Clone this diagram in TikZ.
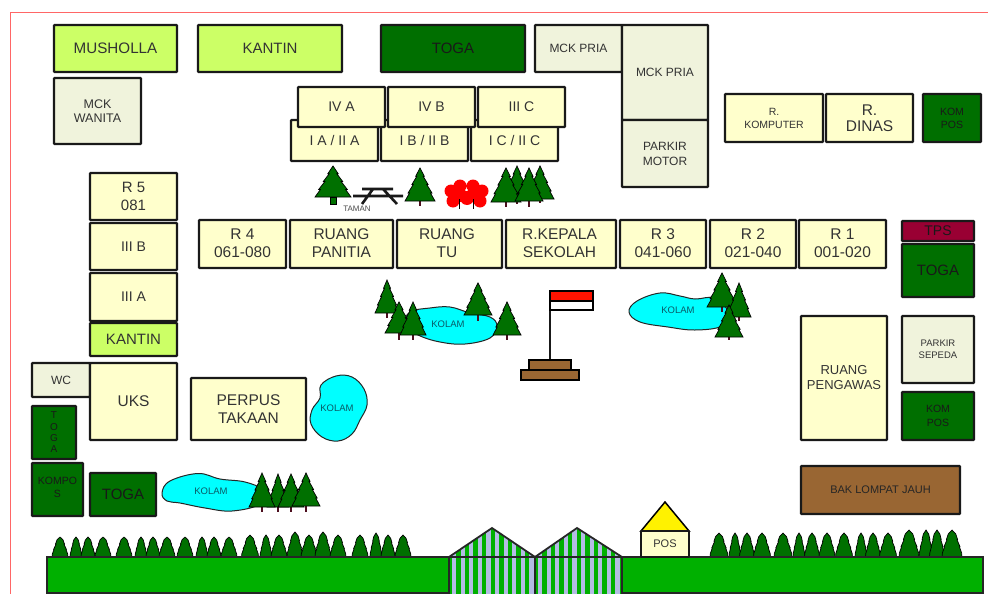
\documentclass[tikz,border=0pt]{standalone}
\usepackage{fontspec}
\setmainfont{Liberation Sans}
\definecolor{lime}{HTML}{CCFF66}
\definecolor{cream}{HTML}{FFFFCC}
\definecolor{pale}{HTML}{F0F3DC}
\definecolor{dgreen}{HTML}{006F00}
\definecolor{tps}{HTML}{990033}
\definecolor{brownb}{HTML}{996633}
\definecolor{groundg}{HTML}{00B000}
\definecolor{treeg}{HTML}{007000}
\definecolor{trunkc}{HTML}{4D0F1E}
\definecolor{lav}{HTML}{B4BCE4}
\definecolor{frame}{HTML}{FF6666}
\definecolor{pondc}{HTML}{00FFFF}
\definecolor{pondt}{HTML}{0A5A66}
\newcommand{\fsz}[2]{\fontsize{#1pt}{#2pt}\selectfont}
\tikzset{
  room/.style={draw=black!90,line width=2.1pt,inner sep=0pt,outer sep=0pt,align=center,text=black!80,rounded corners=0.6pt},
  limeb/.style={room,fill=lime},
  creamb/.style={room,fill=cream},
  paleb/.style={room,fill=pale},
  greenb/.style={room,fill=dgreen,text=black!90},
  tpsb/.style={room,fill=tps,text=black!90},
  brownbox/.style={room,fill=brownb,text=black!85},
  pond/.style={draw=black!85,line width=1pt,fill=pondc},
  pondtext/.style={text=pondt,inner sep=0pt,font=\fsz{9.5}{11}},
  treeleaf/.style={draw=black,line width=0.7pt,fill=treeg},
  trunkline/.style={draw=trunkc,line width=2.4pt},
  darkline/.style={draw=black!90,line width=2pt},
  tablebar/.style={draw=black!90,line width=2.6pt},
}
% \bx{style}{name}{x1}{y1}{x2}{y2}{text}
\newcommand{\bx}[7]{%
  \pgfmathsetmacro{\bw}{#5-#3}\pgfmathsetmacro{\bh}{#6-#4}%
  \pgfmathsetmacro{\bcx}{(#3+#5)/2}\pgfmathsetmacro{\bcy}{(#4+#6)/2}%
  \node[#1,minimum width=\bw pt,minimum height=\bh pt] (#2) at (\bcx,\bcy) {#7};}
% \pine{cx}{top}{foliage bottom}{trunk bottom}{half width}
\newcommand{\pine}[5]{%
  \pgfmathsetmacro{\ph}{#3-#2}%
  \draw[trunkline] (#1,#3-2) -- (#1,#4);
  \draw[treeleaf,shift={(#1,#2)},xscale=#5,yscale=\ph]
    (0,0) -- (.29,.25) -- (.21,.25) -- (.54,.5) -- (.45,.5) -- (.8,.76) -- (.7,.76) -- (1,1)
    -- (-1,1) -- (-.7,.76) -- (-.8,.76) -- (-.45,.5) -- (-.54,.5) -- (-.21,.25) -- (-.29,.25) -- cycle;}
% \gtree{cx}{top}{half width}
\newcommand{\gtree}[3]{%
  \pgfmathsetmacro{\ph}{557-#2}%
  \draw[treeleaf,shift={(#1,#2)},xscale=#3,yscale=\ph]
    (0,0) -- (.38,.15) -- (.56,.35) -- (.5,.36) -- (.8,.62) -- (.75,.63) -- (.96,.85) -- (1,1)
    -- (-1,1) -- (-.96,.85) -- (-.75,.63) -- (-.8,.62) -- (-.5,.36) -- (-.56,.35) -- (-.38,.15) -- cycle;}
\begin{document}
\begin{tikzpicture}[x=1pt,y=-1pt]
\useasboundingbox (0,0) rectangle (988,594);
\fill[white] (0,0) rectangle (988,594);
% page frame
\draw[frame,line width=1.2pt] (10.5,594) -- (10.5,12.5) -- (988,12.5);

% top row
\bx{limeb,font=\fsz{15.2}{17}}{musholla}{54}{25}{177}{72}{MUSHOLLA}
\bx{limeb,font=\fsz{15}{17}}{kantinA}{198}{25}{342}{72}{KANTIN}
\bx{greenb,font=\fsz{15}{17}}{togaA}{381}{25}{525}{72}{TOGA}
\bx{paleb,font=\fsz{12}{14}}{mckpriaA}{535}{25}{622}{72}{MCK PRIA}
\bx{paleb,font=\fsz{12}{17}}{mckpriaB}{622}{25}{708}{120}{MCK PRIA}
\bx{paleb,font=\fsz{12}{15}}{parkirmotor}{622}{120}{708}{187}{PARKIR\\MOTOR}
\bx{paleb,font=\fsz{12.5}{14}}{mckwanita}{54}{78}{141}{144}{MCK\\WANITA}

% classes
\bx{creamb,font=\fsz{14}{16}}{ia}{291}{120}{378}{161}{I A / II A}
\bx{creamb,font=\fsz{14}{16}}{ib}{381}{120}{468}{161}{I B / II B}
\bx{creamb,font=\fsz{14}{16}}{ic}{471}{120}{558}{161}{I C / II C}
\bx{creamb,font=\fsz{14}{16}}{iva}{298}{87}{385}{127}{IV A}
\bx{creamb,font=\fsz{14}{16}}{ivb}{388}{87}{475}{127}{IV B}
\bx{creamb,font=\fsz{14}{16}}{iiic}{478}{87}{565}{127}{III C}

% upper right
\bx{creamb,font=\fsz{10.5}{13}}{rkomputer}{725}{94}{823}{142}{R.\\KOMPUTER}
\bx{creamb,font=\fsz{15.5}{16}}{rdinas}{826}{94}{913}{142}{R.\\DINAS}
\bx{greenb,font=\fsz{10.5}{13}}{komposA}{923}{94}{981}{142}{KOM\\POS}

% left column
\bx{creamb,font=\fsz{15}{18}}{r5}{90}{173}{177}{220}{R 5\\081}
\bx{creamb,font=\fsz{14}{16}}{iiib}{90}{223}{177}{270}{III B}
\bx{creamb,font=\fsz{14}{16}}{iiia}{90}{273}{177}{321}{III A}
\bx{limeb,font=\fsz{15}{16}}{kantinB}{90}{323}{177}{356}{KANTIN}

% main row
\bx{creamb,font=\fsz{15.5}{18}}{r4}{199}{220}{286}{268}{\raisebox{1pt}{R 4}\\\raisebox{1pt}{061-080}}
\bx{creamb,font=\fsz{15.5}{18}}{panitia}{290}{220}{393}{268}{\raisebox{1pt}{RUANG}\\\raisebox{1pt}{PANITIA}}
\bx{creamb,font=\fsz{15.5}{18}}{tu}{397}{220}{502}{268}{\hspace*{-5pt}\raisebox{1pt}{RUANG}\\\hspace*{-5pt}\raisebox{1pt}{TU}}
\bx{creamb,font=\fsz{15.5}{18}}{kepsek}{506}{220}{616}{268}{\hspace*{-3pt}\raisebox{1pt}{R.KEPALA}\\\hspace*{-3pt}\raisebox{1pt}{SEKOLAH}}
\bx{creamb,font=\fsz{15.5}{18}}{r3}{620}{220}{706}{268}{\raisebox{1pt}{R 3}\\\raisebox{1pt}{041-060}}
\bx{creamb,font=\fsz{15.5}{18}}{r2}{710}{220}{796}{268}{\raisebox{1pt}{R 2}\\\raisebox{1pt}{021-040}}
\bx{creamb,font=\fsz{15.5}{18}}{r1}{799}{220}{886}{268}{\raisebox{1pt}{R 1}\\\raisebox{1pt}{001-020}}

% right column
\bx{tpsb,font=\fsz{14}{16}}{tpsnode}{902}{221}{974}{241}{TPS}
\bx{greenb,font=\fsz{15}{17}}{togaB}{902}{244}{974}{297}{TOGA}
\bx{paleb,font=\fsz{9.5}{12}}{sepeda}{902}{316}{974}{383}{PARKIR\\SEPEDA}
\bx{greenb,font=\fsz{10.5}{14}}{komposB}{902}{392}{974}{440}{KOM\\POS}
\bx{creamb,font=\fsz{13}{15}}{pengawas}{801}{316}{887}{440}{RUANG\\PENGAWAS}
\bx{brownbox,font=\fsz{11}{13}}{bak}{801}{466}{960}{514}{BAK LOMPAT JAUH}

% lower left
\bx{paleb,font=\fsz{12}{14}}{wc}{32}{363}{90}{397}{WC}
\bx{creamb,font=\fsz{15.5}{18}}{uks}{90}{363}{177}{440}{UKS}
\bx{creamb,font=\fsz{15.5}{18}}{perpus}{191}{378}{306}{440}{PERPUS\\TAKAAN}
\bx{greenb,font=\fsz{10}{11.3}}{togaC}{32}{406}{76}{459}{T\\O\\G\\A}
\bx{greenb,font=\fsz{10.5}{13}}{komposC}{32}{463}{83}{516}{\raisebox{5pt}{KOMPO}\\\raisebox{5pt}{S}}
\bx{greenb,font=\fsz{15}{17}}{togaD}{90}{473}{156}{516}{TOGA}

% taman
\pine{333}{166}{197}{197}{18}
\draw[draw=black,line width=.7pt,fill=treeg] (330,197) rectangle (336,204);
\draw[tablebar] (362,189) -- (393,189) (353,196) -- (403,196)
  (373,189) -- (362,204) (383,189) -- (397,204);
\node[inner sep=0pt,text=black!70,font=\fsz{8}{9}] (taman) at (357,208.5) {TAMAN};
\pine{420}{168}{201}{206}{15}
\fill[red] (451,191) circle (6.5) (460,186) circle (6.5) (473,186) circle (6.5) (482,191) circle (6.5)
  (453,201) circle (6.5) (467,198) circle (7) (480,201) circle (6.5) (460,195) circle (7) (473,195) circle (7);
\draw[line width=1pt] (459,199) -- (459,209) (473,199) -- (473,209);
\pine{517}{166}{198}{204}{13}
\pine{540}{166}{199}{203}{14}
\pine{506}{168}{202}{207}{15}
\pine{529}{168}{201}{207}{14}

% ponds
\draw[pond] plot[smooth cycle,tension=.65] coordinates {(410,312) (430,308) (450,307) (470,313) (490,317) (497,326) (490,338) (465,344) (440,342) (418,335) (405,325)};
\node[pondtext] (kolamA) at (448,324) {KOLAM};
\pine{387}{280}{313}{318}{12}
\pine{399}{302}{333}{340}{14}
\pine{413}{302}{335}{340}{13}
\pine{478}{283}{315}{321}{14}
\pine{507}{302}{335}{340}{14}

\draw[pond] plot[smooth cycle,tension=.65] coordinates {(629,312) (637,301) (660,293) (680,296) (695,299) (715,298) (728,312) (722,326) (695,330) (668,327) (640,322)};
\node[pondtext] (kolamB) at (678,310) {KOLAM};
\pine{722}{273}{307}{312}{15}
\pine{739}{283}{317}{321}{12}
\pine{729}{305}{337}{340}{14}

\draw[pond] plot[smooth cycle,tension=.65] coordinates {(336,376) (352,377) (364,389) (367,405) (360,420) (352,434) (338,441) (322,437) (311,424) (312,410) (320,398) (321,385)};
\node[pondtext] (kolamC) at (337,408) {KOLAM};

\draw[pond] plot[smooth cycle,tension=.65] coordinates {(162,493) (170,481) (198,473.5) (220,479) (245,482) (262,490) (260,504) (232,511) (205,508) (180,503) (167,501)};
\node[pondtext] (kolamD) at (211,491) {KOLAM};
\pine{278}{474}{507}{512}{11}
\pine{262}{473}{507}{512}{13}
\pine{291}{474}{507}{512}{13}
\pine{306}{473}{506}{512}{14}

% flag
\draw[darkline] (550,291) -- (550,360);
\draw[draw=black,line width=1.8pt,fill=white] (550,301) rectangle (593,310);
\draw[draw=black,line width=1.8pt,fill=red!85!orange] (550,291) rectangle (593,301);
\draw[draw=black,line width=2pt,fill=brownb] (529,360) rectangle (571,370);
\draw[draw=black,line width=2pt,fill=brownb] (521,370) rectangle (579,380);

% hedge
\foreach \tx/\tw in {60/8,76/6,88/7,103/8,124/8,141/6,153/7,167/8,185/8,202/6,214/7,229/8}{\gtree{\tx}{537}{\tw}}
\foreach \tx/\tt/\tw in {250/535/8.5,266/535/6,279/535/8,295/532/8,309/535/8,323/532/8,338/535/8,360/535/8,376/533/6,388/535/7,403/535/8}{\gtree{\tx}{\tt}{\tw}}
\foreach \tx/\tw in {719/9,735/6,747/7.5,762/8.5,783/9,799/6,812/7.5,827/8,844/8.5,861/6,873/7.5,888/8.5}{\gtree{\tx}{533}{\tw}}
\foreach \tx/\tw in {909/10,926/7,937/7.5,952/10}{\gtree{\tx}{530}{\tw}}

% ground
\draw[draw=black!85,line width=1.8pt,fill=groundg] (47,557) rectangle (983,593);

% gates
\begin{scope}
  \clip (449,557) -- (492,528) -- (535,557) -- (577,528) -- (622,557) -- (622,594) -- (449,594) -- cycle;
  \fill[groundg] (449,528) rectangle (622,594);
  \foreach \sx in {0,...,20}{\fill[lav] (452+8.6*\sx,528) rectangle (456.2+8.6*\sx,594);}
\end{scope}
\draw[draw=black!85,line width=1.8pt] (449,594) -- (449,557) -- (492,528) -- (535,557) -- (577,528) -- (622,557) -- (622,594)
  (449,557) -- (622,557) (535,557) -- (535,594);

% pos
\draw[draw=black,line width=1.5pt,fill=yellow] (641,531) -- (665,502) -- (689,531) -- cycle;
\bx{creamb,line width=1.6pt,font=\fsz{11}{13}}{pos}{641}{531}{689}{557}{POS}
\end{tikzpicture}
\end{document}
